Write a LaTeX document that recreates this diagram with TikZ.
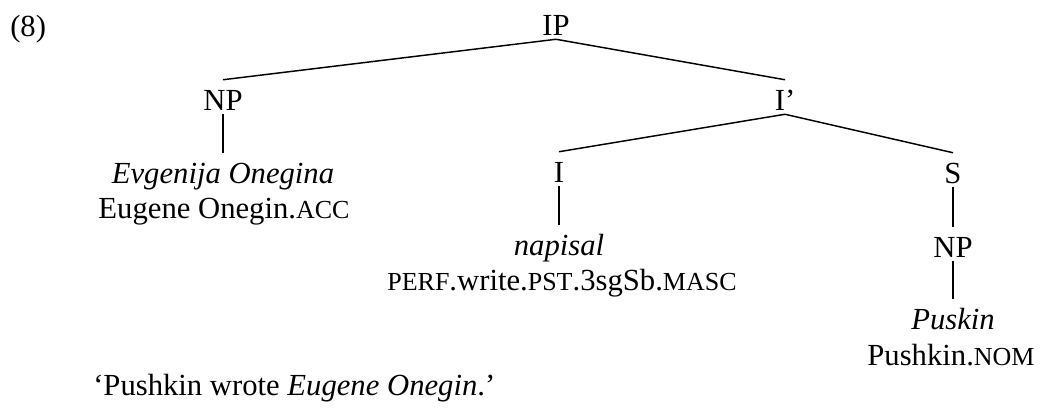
\documentclass[tikz,border=0pt]{standalone}
\usepackage{fontspec}
\setmainfont{Liberation Serif}
\newcommand{\glsc}[1]{{\fontsize{19.5}{22}\selectfont #1}}

\begin{document}
\begin{tikzpicture}[x=0.75pt,y=0.75pt,yscale=-1,xscale=1,
  every node/.style={font=\fontsize{23}{28}\selectfont, inner sep=0pt},
  cat/.style={anchor=base, text height=22.5pt, text depth=3pt},
  word/.style={cat, font=\fontsize{23}{28}\selectfont\itshape},
  gloss/.style={anchor=base},
  branch/.style={line width=1.1pt}]
\useasboundingbox (0,0) rectangle (1043,408);

% Text Node
\draw (10,36) node [anchor=base west] (exnum) {(8)};
% Text Node
\draw (556,35) node [cat] (ip) {IP};
% Text Node
\draw (223,110) node [cat] (npa) {NP};
% Text Node
\draw (785,110) node [cat] (ibar) {I’};
% Text Node
\draw (559,182) node [cat] (infl) {I};
% Text Node
\draw (953,183) node [cat] (sent) {S};
% Text Node
\draw (953,257) node [cat] (npb) {NP};

% Text Node
\draw (223,183) node [word] (evg) {Evgenija Onegina};
% Text Node
\draw (224,218) node [gloss] (evggl) {Eugene Onegin.\glsc{ACC}};
% Text Node
\draw (559,255) node [word] (nap) {napisal};
% Text Node
\draw (562,290) node [gloss] (napgl) {\glsc{PERF}.write.\glsc{PST}.3sgSb.\glsc{MASC}};
% Text Node
\draw (953,329) node [word] (pus) {Puskin};
% Text Node
\draw (951,365) node [gloss] (pusgl) {Pushkin.\glsc{NOM}};

% Text Node
\draw (93,395) node [anchor=base west] (transl) {‘Pushkin wrote \textit{Eugene Onegin}.’};

%Straight Lines
\draw [branch] (ip.south) -- (npa.north);
\draw [branch] (ip.south) -- (ibar.north);
\draw [branch] (npa.south) -- (evg.north);
\draw [branch] (ibar.south) -- (infl.north);
\draw [branch] (ibar.south) -- (sent.north);
\draw [branch] (infl.south) -- (nap.north);
\draw [branch] (sent.south) -- (npb.north);
\draw [branch] (npb.south) -- (pus.north);

\end{tikzpicture}
\end{document}
